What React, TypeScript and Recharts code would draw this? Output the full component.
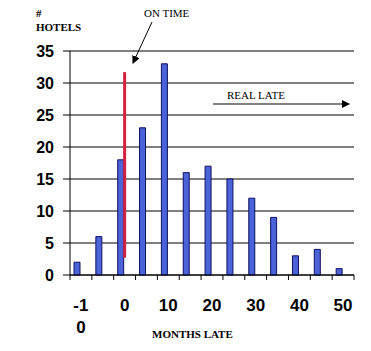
import React from 'react';
import { BarChart, Bar, XAxis, YAxis, CartesianGrid, ReferenceLine } from 'recharts';

const months = [-10, -5, 0, 5, 10, 15, 20, 25, 30, 35, 40, 45, 50];
const hotels = [2, 6, 18, 23, 33, 16, 17, 15, 12, 9, 3, 4, 1];
const yTicks = [0, 5, 10, 15, 20, 25, 30, 35];
// the "on time" marker
const onTimeMonth = 0;
const onTimeFrom = 2.7;
const onTimeTo = 31.7;

const W = 371;
const H = 351;
const MARGIN = { top: 51, right: 17, bottom: 0, left: 0 };
const Y_AXIS_W = 70;
const X_AXIS_H = 76;
const BAND = (W - MARGIN.left - MARGIN.right - Y_AXIS_W) / months.length;

const data = months.map((m, i) => ({ month: m, hotels: hotels[i] }));

const AXIS_FONT = '"Liberation Sans", Arial, sans-serif';
const NOTE_FONT = '"Liberation Serif", "Times New Roman", serif';

const XTick = (props: any) => {
  const { x, y, payload, index } = props;
  const half = BAND / 2;
  const label = String(payload.value);
  const lines = label.length > 2 ? [label.slice(0, 2), label.slice(2)] : [label];
  const last = index === months.length - 1;
  return (
    <g>
      <line x1={x - half} y1={y} x2={x - half} y2={y + 5} stroke="#000" />
      {last && <line x1={x + half} y1={y} x2={x + half} y2={y + 5} stroke="#000" />}
      {index % 2 === 0 && (
        <text x={x} y={y + 36} textAnchor="middle" fontFamily={AXIS_FONT} fontWeight="bold" fontSize={17} fill="#000">
          {lines.map((l, i) => (
            <tspan key={i} x={x} dy={i === 0 ? 0 : 22}>{l}</tspan>
          ))}
        </text>
      )}
    </g>
  );
};

export default function App() {
  return (
    <div style={{ position: 'absolute', left: 0, top: 0, width: W, height: H, background: '#fff' }}>
      <BarChart width={W} height={H} data={data} margin={MARGIN} barGap={2} barSize={6}>
        <CartesianGrid horizontal vertical={false} stroke="#000" strokeWidth={1} />
        <XAxis
          dataKey="month"
          interval={0}
          height={X_AXIS_H}
          tickLine={false}
          tickSize={0}
          tickMargin={0}
          axisLine={{ stroke: '#000' }}
          tick={<XTick />}
        />
        <YAxis
          width={Y_AXIS_W}
          domain={[0, 35]}
          ticks={yTicks}
          interval={0}
          tickSize={7}
          tickMargin={9}
          tickLine={{ stroke: '#000' }}
          axisLine={{ stroke: '#000' }}
          tick={{ fontFamily: AXIS_FONT, fontWeight: 'bold', fontSize: 16, fill: '#000' }}
        />
        <Bar dataKey="hotels" fill="#4a63d9" stroke="#101060" strokeWidth={1} isAnimationActive={false} />
        <Bar dataKey="spacer" fill="none" isAnimationActive={false} />
        <ReferenceLine
          segment={[{ x: onTimeMonth, y: onTimeFrom }, { x: onTimeMonth, y: onTimeTo }]}
          stroke="#d42040"
          strokeWidth={3}
        />
      </BarChart>
      <svg width={W} height={H} style={{ position: 'absolute', left: 0, top: 0, pointerEvents: 'none' }}>
        <defs>
          <marker id="head" markerWidth="8" markerHeight="8" refX="7" refY="4" orient="auto" markerUnits="userSpaceOnUse">
            <path d="M0,0 L8,4 L0,8 Z" fill="#000" />
          </marker>
        </defs>
        <text x={36} y={17} fontFamily={NOTE_FONT} fontWeight="bold" fontSize={11}>#</text>
        <text x={36} y={31} fontFamily={NOTE_FONT} fontWeight="bold" fontSize={11}>HOTELS</text>
        <text x={144} y={17} fontFamily={NOTE_FONT} fontSize={11}>ON TIME</text>
        <line x1={152} y1={22} x2={133} y2={63} stroke="#000" strokeWidth={1} markerEnd="url(#head)" />
        <text x={227} y={99} fontFamily={NOTE_FONT} fontSize={11}>REAL LATE</text>
        <line x1={213} y1={104} x2={349} y2={104} stroke="#000" strokeWidth={1} markerEnd="url(#head)" />
        <text x={152} y={338} fontFamily={NOTE_FONT} fontWeight="bold" fontSize={11}>MONTHS LATE</text>
      </svg>
    </div>
  );
}
